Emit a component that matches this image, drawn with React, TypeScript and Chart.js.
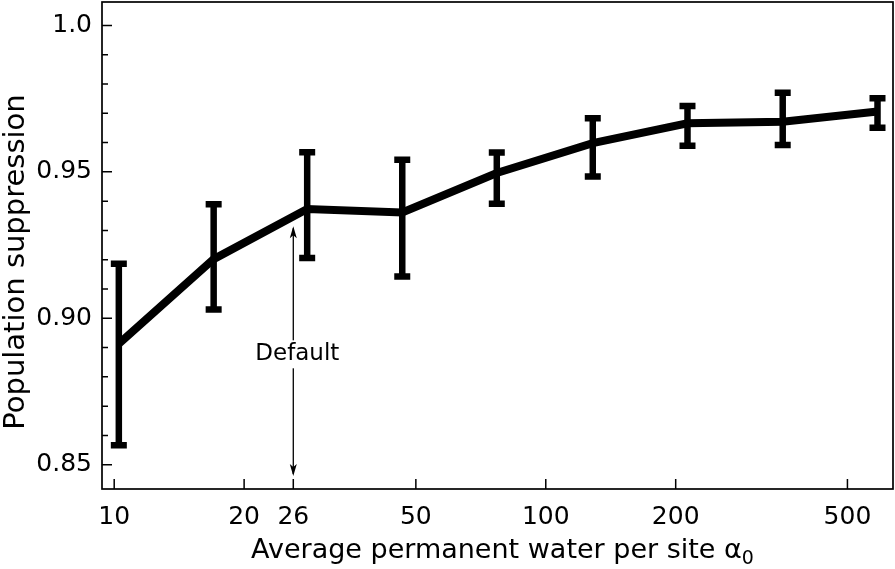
import React, { useEffect, useRef } from "react";
import { Chart, registerables } from "chart.js";

Chart.register(...registerables);

// ---- data ----
const xValues = [10.25, 17, 28, 46.5, 77, 128.5, 213, 354, 587];
const meanValues = [0.8913, 0.9202, 0.9373, 0.9361, 0.9496, 0.9598, 0.9666, 0.9671, 0.9706];
const upperValues = [0.9186, 0.9389, 0.9567, 0.9541, 0.9566, 0.9683, 0.9725, 0.977, 0.9751];
const lowerValues = [0.8566, 0.903, 0.9206, 0.9143, 0.9391, 0.9484, 0.9589, 0.9592, 0.9651];

const xTickValues = [10, 20, 26, 50, 100, 200, 500];
const yMajorTicks = [0.85, 0.9, 0.95, 1.0];
const yTickLabels = ["0.85", "0.90", "0.95", "1.0"];
const yMinorTicks = [0.86, 0.87, 0.88, 0.89, 0.91, 0.92, 0.93, 0.94, 0.96, 0.97, 0.98, 0.99];

const defaultX = 26;
const defaultArrowTop = 0.9314;
const defaultArrowBottom = 0.8461;
const defaultLabelY = 0.8877;
const defaultLabel = "Default";

const xTitle = "Average permanent water per site α";
const xTitleSub = "0";
const yTitle = "Population suppression";

const FONT = "'DejaVu Sans', sans-serif";

const decorPlugin = {
  id: "decor",
  afterDatasetsDraw(chart: any) {
    const ctx = chart.ctx;
    const xs = chart.scales.x;
    const ys = chart.scales.y;
    const area = chart.chartArea;
    ctx.save();
    // error bars
    ctx.strokeStyle = "#000";
    ctx.fillStyle = "#000";
    for (let i = 0; i < xValues.length; i++) {
      const px = xs.getPixelForValue(xValues[i]);
      const pTop = ys.getPixelForValue(upperValues[i]);
      const pBot = ys.getPixelForValue(lowerValues[i]);
      ctx.lineWidth = 6.5;
      ctx.lineCap = "butt";
      ctx.beginPath();
      ctx.moveTo(px, pTop);
      ctx.lineTo(px, pBot);
      ctx.stroke();
      ctx.beginPath();
      ctx.moveTo(px - 8, pTop);
      ctx.lineTo(px + 8, pTop);
      ctx.moveTo(px - 8, pBot);
      ctx.lineTo(px + 8, pBot);
      ctx.stroke();
    }

    // Default annotation
    const ax = xs.getPixelForValue(defaultX);
    const aTop = ys.getPixelForValue(defaultArrowTop);
    const aBot = ys.getPixelForValue(defaultArrowBottom);
    const aLab = ys.getPixelForValue(defaultLabelY);
    ctx.lineWidth = 1.3;
    ctx.beginPath();
    ctx.moveTo(ax, aTop + 2);
    ctx.lineTo(ax, aBot - 2);
    ctx.stroke();
    const head = (y: number, dir: number) => {
      ctx.beginPath();
      ctx.moveTo(ax, y);
      ctx.lineTo(ax - 3.5, y + dir * 12);
      ctx.lineTo(ax, y + dir * 9);
      ctx.lineTo(ax + 3.5, y + dir * 12);
      ctx.closePath();
      ctx.fill();
    };
    head(aTop, 1);
    head(aBot, -1);
    ctx.font = `23px ${FONT}`;
    const tw = ctx.measureText(defaultLabel).width;
    ctx.fillStyle = "#fff";
    ctx.fillRect(ax + 4 - tw / 2 - 2, aLab - 14, tw + 4, 28);
    ctx.fillStyle = "#000";
    ctx.textAlign = "center";
    ctx.textBaseline = "middle";
    ctx.fillText(defaultLabel, ax + 4, aLab);

    // frame
    ctx.lineWidth = 1.7;
    ctx.strokeRect(area.left, area.top, area.right - area.left, area.bottom - area.top);

    // inward ticks
    ctx.lineWidth = 1.5;
    ctx.beginPath();
    for (const v of xTickValues) {
      const p = xs.getPixelForValue(v);
      ctx.moveTo(p, area.bottom);
      ctx.lineTo(p, area.bottom - 10);
    }
    for (const v of yMajorTicks) {
      const p = ys.getPixelForValue(v);
      ctx.moveTo(area.left, p);
      ctx.lineTo(area.left + 10, p);
    }
    for (const v of yMinorTicks) {
      const p = ys.getPixelForValue(v);
      ctx.moveTo(area.left, p);
      ctx.lineTo(area.left + 6, p);
    }
    ctx.stroke();

    // x title with subscript
    ctx.fillStyle = "#000";
    ctx.textBaseline = "alphabetic";
    ctx.textAlign = "left";
    ctx.font = `27px ${FONT}`;
    const mainW = ctx.measureText(xTitle).width;
    ctx.font = `19px ${FONT}`;
    const subW = ctx.measureText(xTitleSub).width;
    const totalW = mainW + subW;
    const cx = (area.left + area.right) / 2 + 5;
    const startX = cx - totalW / 2;
    ctx.font = `27px ${FONT}`;
    ctx.fillText(xTitle, startX, 558);
    ctx.font = `19px ${FONT}`;
    ctx.fillText(xTitleSub, startX + mainW, 564);

    // y title
    ctx.font = `29px ${FONT}`;
    ctx.textAlign = "center";
    ctx.translate(24, 262);
    ctx.rotate(-Math.PI / 2);
    ctx.fillText(yTitle, 0, 0);
    ctx.restore();
  },
};

export default function App() {
  const ref = useRef<HTMLCanvasElement | null>(null);
  useEffect(() => {
    document.body.style.margin = "0";
    const canvas = ref.current!;
    const chart = new Chart(canvas, {
      type: "line",
      data: {
        datasets: [
          {
            label: "Population suppression",
            data: xValues.map((x, i) => ({ x, y: meanValues[i] })),
            borderColor: "#000",
            borderWidth: 8,
            pointRadius: 0,
            fill: false,
            tension: 0,
          },
        ],
      },
      options: {
        responsive: false,
        animation: false,
        events: [],
        layout: { padding: { top: 2, right: 2, left: 0, bottom: 0 } },
        plugins: { legend: { display: false }, tooltip: { enabled: false } },
        scales: {
          x: {
            type: "logarithmic",
            position: "bottom",
            min: 9.37,
            max: 637.6,
            afterBuildTicks: (s: any) => {
              s.ticks = xTickValues.map((v) => ({ value: v }));
            },
            afterFit: (s: any) => {
              s.height = 80;
              s.paddingLeft = 0;
              s.paddingRight = 0;
            },
            grid: { display: false, drawTicks: false },
            border: { display: false },
            ticks: {
              autoSkip: false,
              maxRotation: 0,
              padding: 13,
              color: "#000",
              font: { family: FONT, size: 25 },
              callback: (v: any) => String(v),
            },
            title: { display: false },
          },
          y: {
            type: "linear",
            min: 0.8417,
            max: 1.008,
            afterBuildTicks: (s: any) => {
              s.ticks = yMajorTicks.map((v) => ({ value: v }));
            },
            afterFit: (s: any) => {
              s.width = 102;
              s.paddingTop = 0;
              s.paddingBottom = 0;
            },
            grid: { display: false, drawTicks: false },
            border: { display: false },
            ticks: {
              padding: 10,
              color: "#000",
              font: { family: FONT, size: 25 },
              callback: (v: any) => {
                const i = yMajorTicks.findIndex((t) => Math.abs(t - v) < 1e-6);
                return i >= 0 ? yTickLabels[i] : "";
              },
            },
            title: { display: false },
          },
        },
      },
      plugins: [decorPlugin],
    });
    return () => chart.destroy();
  }, []);
  return (
    <div style={{ position: "absolute", left: 0, top: 0, width: 895, height: 569, background: "#fff" }}>
      <canvas ref={ref} width={895} height={569} style={{ width: 895, height: 569, display: "block" }} />
    </div>
  );
}
